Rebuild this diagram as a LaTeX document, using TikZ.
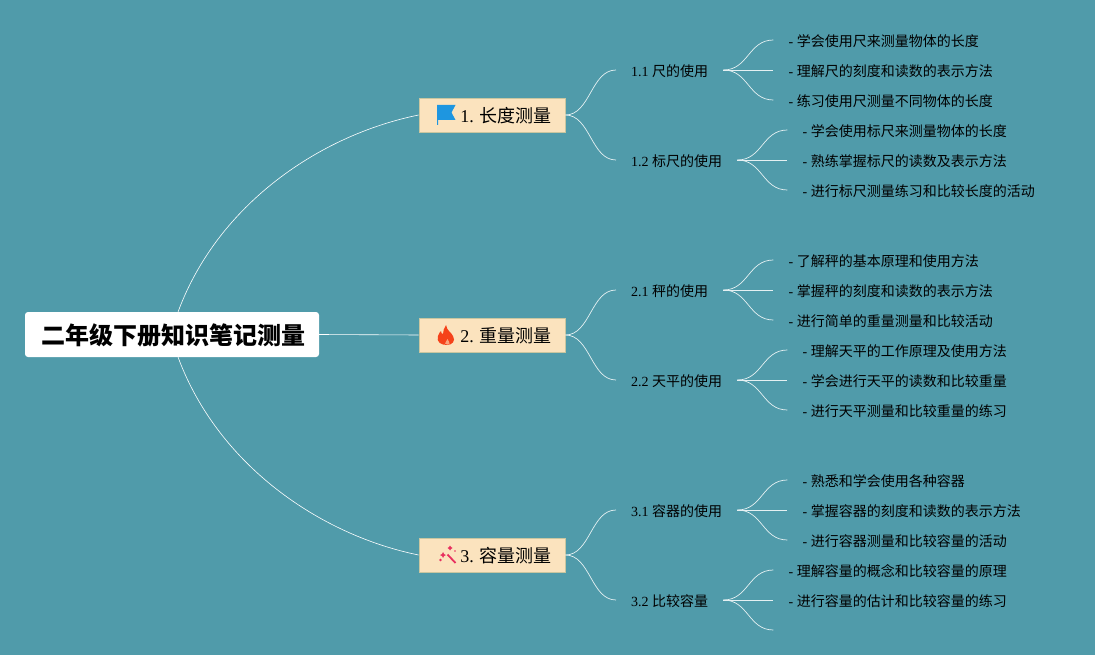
\documentclass[tikz,border=0pt]{standalone}
\usepackage{fontspec}
\setmainfont{Liberation Serif}
\newfontfamily\cjk{Noto Sans CJK SC}
\usetikzlibrary{calc}

\definecolor{bgteal}{HTML}{509BAA}
\definecolor{topicfill}{HTML}{FBE3BE}
\definecolor{topicline}{HTML}{C9C6A0}
\definecolor{flagblue}{HTML}{1E96E0}
\definecolor{flamered}{HTML}{F5421A}
\definecolor{wandpink}{HTML}{E8305F}

\tikzset{
  rootbox/.style={fill=white, rounded corners=3pt, minimum width=294pt, minimum height=45pt, inner sep=0pt,
    text height=23pt, text depth=3pt, font=\fontsize{24}{28}\selectfont\cjk\bfseries},
  topicbox/.style={draw=topicline, fill=topicfill, line width=0.7pt, minimum width=146pt, minimum height=34pt, inner sep=0pt,
    text height=17.8pt, text depth=2.2pt, font=\fontsize{18}{22}\selectfont},
  subbox/.style={anchor=west, inner xsep=15pt, inner ysep=2pt, text height=14.3pt, text depth=1.7pt,
    font=\fontsize{14}{17}\selectfont},
  leafbox/.style={anchor=west, inner xsep=15pt, inner ysep=2pt, text height=14.3pt, text depth=1.7pt,
    font=\fontsize{14}{17}\selectfont},
  branch/.style={draw=white, line width=0.6pt},
  twig/.style={draw=white!85!bgteal, line width=0.7pt}
}

\begin{document}
\begin{tikzpicture}[x=1pt,y=-1pt]
\useasboundingbox (0,0) rectangle (1095,655);
\fill[bgteal] (0,0) rectangle (1095,655);

% root and topics
\node[rootbox] (root) at (172,334.5) {\hspace*{2pt}二年级下册知识笔记测量};
\node[topicbox] (t1) at (492,115) {\hspace*{28pt}1. {\cjk 长度测量}};
\node[topicbox] (t2) at (492,335) {\hspace*{28pt}2. {\cjk 重量测量}};
\node[topicbox] (t3) at (492,555) {\hspace*{28pt}3. {\cjk 容量测量}};

\draw[branch] (root.75) .. controls (218,204) and (320,135) .. (t1.west);
\draw[branch] (root.east) -- (t2.west);
\draw[branch] (root.285) .. controls (218,465) and (320,535) .. (t3.west);

% icons
\fill[flagblue] (437,105) -- (455.5,105) -- (451.5,112.5) -- (455.5,120) -- (438.2,120) -- (438.2,125) -- (437,125) -- cycle;
\fill[flamered] (446,325) .. controls (447,331) and (451,332) .. (453,336)
  .. controls (456,341) and (452,345) .. (447,345)
  .. controls (441,345) and (436,342) .. (438,336)
  .. controls (439,333) and (440,332) .. (441,331)
  .. controls (441,333) and (442,334) .. (443,334)
  .. controls (443,331) and (444,328) .. (446,325) -- cycle;
\fill[topicfill!60!flamered] (447.5,339) .. controls (448,341) and (450,342) .. (449.5,343.5)
  .. controls (449,345) and (445.5,345) .. (445,343.5)
  .. controls (445,342) and (447,341) .. (447.5,339) -- cycle;
\draw[wandpink, line width=1.8pt] (447.5,554.5) -- (455.5,563);
\fill[wandpink] (450,545.5) -- (451,547) -- (452.5,548) -- (451,549) -- (450,550.5) -- (449,549) -- (447.5,548) -- (449,547) -- cycle;
\fill[wandpink] (443,552) -- (444,554) -- (446,555) -- (444,556) -- (443,558) -- (442,556) -- (440,555) -- (442,554) -- cycle;
\fill[wandpink] (440.5,560) circle (1.4pt);
\fill[wandpink] (455,551) circle (0.9pt);

% sub topics
\foreach \topicid/\subid/\suby/\subtext in {
  t1/s11/70/{1.1 {\cjk 尺的使用}},
  t1/s12/160/{1.2 {\cjk 标尺的使用}},
  t2/s21/290/{2.1 {\cjk 秤的使用}},
  t2/s22/380/{2.2 {\cjk 天平的使用}},
  t3/s31/510/{3.1 {\cjk 容器的使用}},
  t3/s32/600/{3.2 {\cjk 比较容量}}} {
  \node[subbox] (\subid) at (616,\suby) {\subtext};
  \draw[twig] (\topicid.east) .. controls +(25,0) and +(-25,0) .. (\subid.west);
}

% leaves
\foreach \subid/\leafid/\leafy/\leaftext in {
  s11/l111/-30/{学会使用尺来测量物体的长度},
  s11/l112/0/{理解尺的刻度和读数的表示方法},
  s11/l113/30/{练习使用尺测量不同物体的长度},
  s12/l121/-30/{学会使用标尺来测量物体的长度},
  s12/l122/0/{熟练掌握标尺的读数及表示方法},
  s12/l123/30/{进行标尺测量练习和比较长度的活动},
  s21/l211/-30/{了解秤的基本原理和使用方法},
  s21/l212/0/{掌握秤的刻度和读数的表示方法},
  s21/l213/30/{进行简单的重量测量和比较活动},
  s22/l221/-30/{理解天平的工作原理及使用方法},
  s22/l222/0/{学会进行天平的读数和比较重量},
  s22/l223/30/{进行天平测量和比较重量的练习},
  s31/l311/-30/{熟悉和学会使用各种容器},
  s31/l312/0/{掌握容器的刻度和读数的表示方法},
  s31/l313/30/{进行容器测量和比较容量的活动},
  s32/l321/-30/{理解容量的概念和比较容量的原理},
  s32/l322/0/{进行容量的估计和比较容量的练习}} {
  \node[leafbox] (\leafid) at ($(\subid.east)+(50,\leafy)$) {- {\cjk \leaftext}};
  \draw[twig] (\subid.east) .. controls +(25,0) and +(-25,0) .. (\leafid.west);
}
\coordinate (l323) at ($(s32.east)+(50,30)$);
\draw[twig] (s32.east) .. controls +(25,0) and +(-25,0) .. (l323);
\end{tikzpicture}
\end{document}
